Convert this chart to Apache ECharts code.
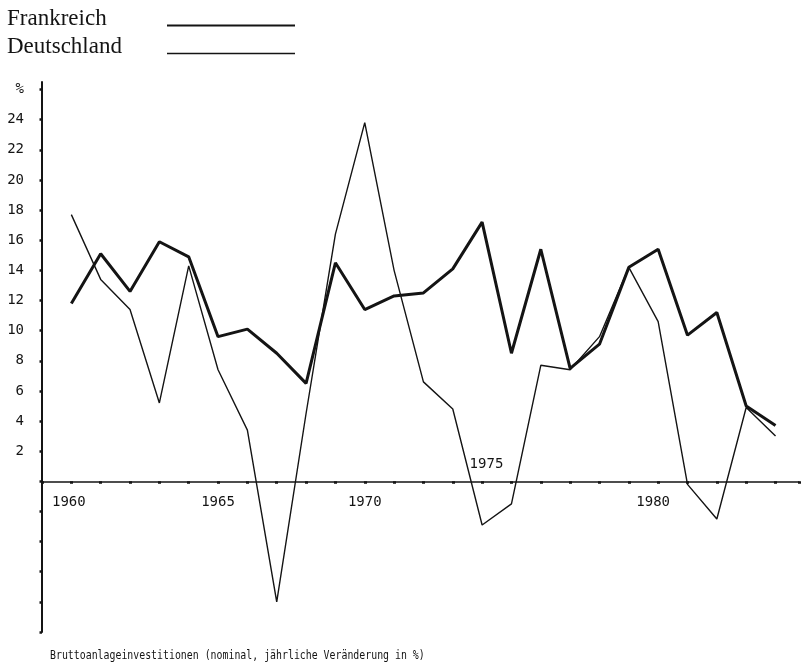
<!DOCTYPE html>
<html>
<head>
<meta charset="utf-8">
<script src="https://cdn.jsdelivr.net/npm/echarts@6/dist/echarts.min.js"></script>
<style>
  html, body { margin: 0; padding: 0; background: #fff; }
  #chart { width: 802px; height: 668px; }
</style>
</head>
<body>
<div id="chart"></div>
<script>
// Jahre und jährliche Veränderung der Bruttoanlageinvestitionen (nominal, in %)
const years = [1960, 1961, 1962, 1963, 1964, 1965, 1966, 1967, 1968, 1969, 1970, 1971, 1972,
               1973, 1974, 1975, 1976, 1977, 1978, 1979, 1980, 1981, 1982, 1983, 1984];
const frankreich = [11.8, 15.1, 12.6, 15.9, 14.9, 9.6, 10.1, 8.5, 6.5, 14.5, 11.4, 12.3, 12.5,
                    14.1, 17.2, 8.5, 15.4, 7.5, 9.1, 14.2, 15.4, 9.7, 11.2, 5.0, 3.7];
const deutschland = [17.7, 13.4, 11.4, 5.2, 14.3, 7.4, 3.4, -8.0, 4.5, 16.4, 23.8, 14.0, 6.6,
                     4.8, -2.9, -1.5, 7.7, 7.4, 9.6, 14.2, 10.6, -0.2, -2.5, 4.9, 3.0];
const yearLabelsBelow = [1960, 1965, 1970, 1980];
const yearLabelsAbove = [1975];
const seriesNames = ['Frankreich', 'Deutschland'];
const caption = 'Bruttoanlageinvestitionen (nominal, jährliche Veränderung in %)';

const ink = '#141414';
const tickFont = 'DejaVu Sans Mono';

// plot area and value range
const gridTop = 82, gridBottom = 36, chartH = 668;
const yMin = -10, yMax = 26.5;
const plotH = chartH - gridTop - gridBottom;
// distance of the zero line from the bottom / top edge of the plot area
const zeroFromBottom = plotH * (0 - yMin) / (yMax - yMin);
const zeroFromTop = plotH - zeroFromBottom;

function pairs(values) {
  return years.map((y, i) => [y, values[i]]);
}

function legendFor(name, top, lineH) {
  return {
    data: [name],
    left: 2,
    top: top,
    orient: 'horizontal',
    align: 'right',
    icon: 'rect',
    itemWidth: 128,
    itemHeight: lineH,
    selectedMode: false,
    formatter: n => '{n|' + n + '}',
    textStyle: {
      rich: {
        n: {
          fontFamily: 'Liberation Serif',
          fontSize: 23,
          color: ink,
          width: 155,
          align: 'left',
          padding: [0, 0, 14, 0]
        }
      }
    }
  };
}

const chart = echarts.init(document.getElementById('chart'), null, { renderer: 'canvas' });

chart.setOption({
  animation: false,
  backgroundColor: '#ffffff',
  grid: { left: 42, right: 2, top: gridTop, bottom: gridBottom, containLabel: false },
  legend: [
    legendFor(seriesNames[0], 2, 2),
    legendFor(seriesNames[1], 30, 1.5)
  ],
  xAxis: [
    {
      type: 'value',
      position: 'bottom',
      offset: -zeroFromBottom,
      min: 1959,
      max: 1984.8,
      interval: 1,
      splitLine: { show: false },
      axisLine: { show: true, onZero: false, lineStyle: { color: ink, width: 1.5 } },
      axisTick: { show: true, length: 2.5, lineStyle: { color: ink, width: 3 } },
      axisLabel: {
        margin: 14,
        formatter: v => {
          if (yearLabelsBelow.indexOf(v) < 0) return '';
          if (v === 1960) return '{a|' + v + '}';
          if (v === 1980) return '{b|' + v + '}';
          return '{c|' + v + '}';
        },
        rich: {
          a: { fontFamily: tickFont, fontSize: 14, color: ink, padding: [0, 5, 0, 0] },
          b: { fontFamily: tickFont, fontSize: 14, color: ink, padding: [0, 10, 0, 0] },
          c: { fontFamily: tickFont, fontSize: 14, color: ink }
        }
      }
    },
    {
      type: 'value',
      position: 'top',
      offset: -zeroFromTop,
      min: 1959,
      max: 1984.8,
      interval: 1,
      splitLine: { show: false },
      axisLine: { show: false, onZero: false },
      axisTick: { show: false },
      axisLabel: {
        margin: 10,
        formatter: v => (yearLabelsAbove.indexOf(v) < 0 ? '' : '{u|' + v + '}'),
        rich: {
          u: { fontFamily: tickFont, fontSize: 14, color: ink, padding: [0, 50, 0, 0] }
        }
      }
    }
  ],
  yAxis: {
    type: 'value',
    min: yMin,
    max: yMax,
    interval: 2,
    splitLine: { show: false },
    axisLine: { show: true, onZero: false, lineStyle: { color: ink, width: 2 } },
    axisTick: { show: true, length: 2.5, lineStyle: { color: ink, width: 2.5 } },
    axisLabel: {
      margin: 18,
      showMaxLabel: false,
      fontFamily: tickFont,
      fontSize: 14,
      color: ink,
      formatter: v => {
        if (v === 26) return '%';
        if (v >= 2 && v <= 24) return String(v);
        return '';
      }
    }
  },
  series: [
    {
      name: seriesNames[0],
      type: 'line',
      data: pairs(frankreich),
      showSymbol: false,
      symbol: 'none',
      color: ink,
      lineStyle: { color: ink, width: 3 },
      z: 3
    },
    {
      name: seriesNames[1],
      type: 'line',
      data: pairs(deutschland),
      showSymbol: false,
      symbol: 'none',
      color: ink,
      lineStyle: { color: ink, width: 1.4 },
      z: 2
    }
  ],
  graphic: [
    {
      type: 'text',
      left: 50,
      top: 649,
      scaleX: 0.76,
      style: {
        text: caption,
        fontFamily: 'DejaVu Sans Mono',
        fontSize: 13,
        fill: ink
      }
    }
  ]
});
</script>
</body>
</html>
